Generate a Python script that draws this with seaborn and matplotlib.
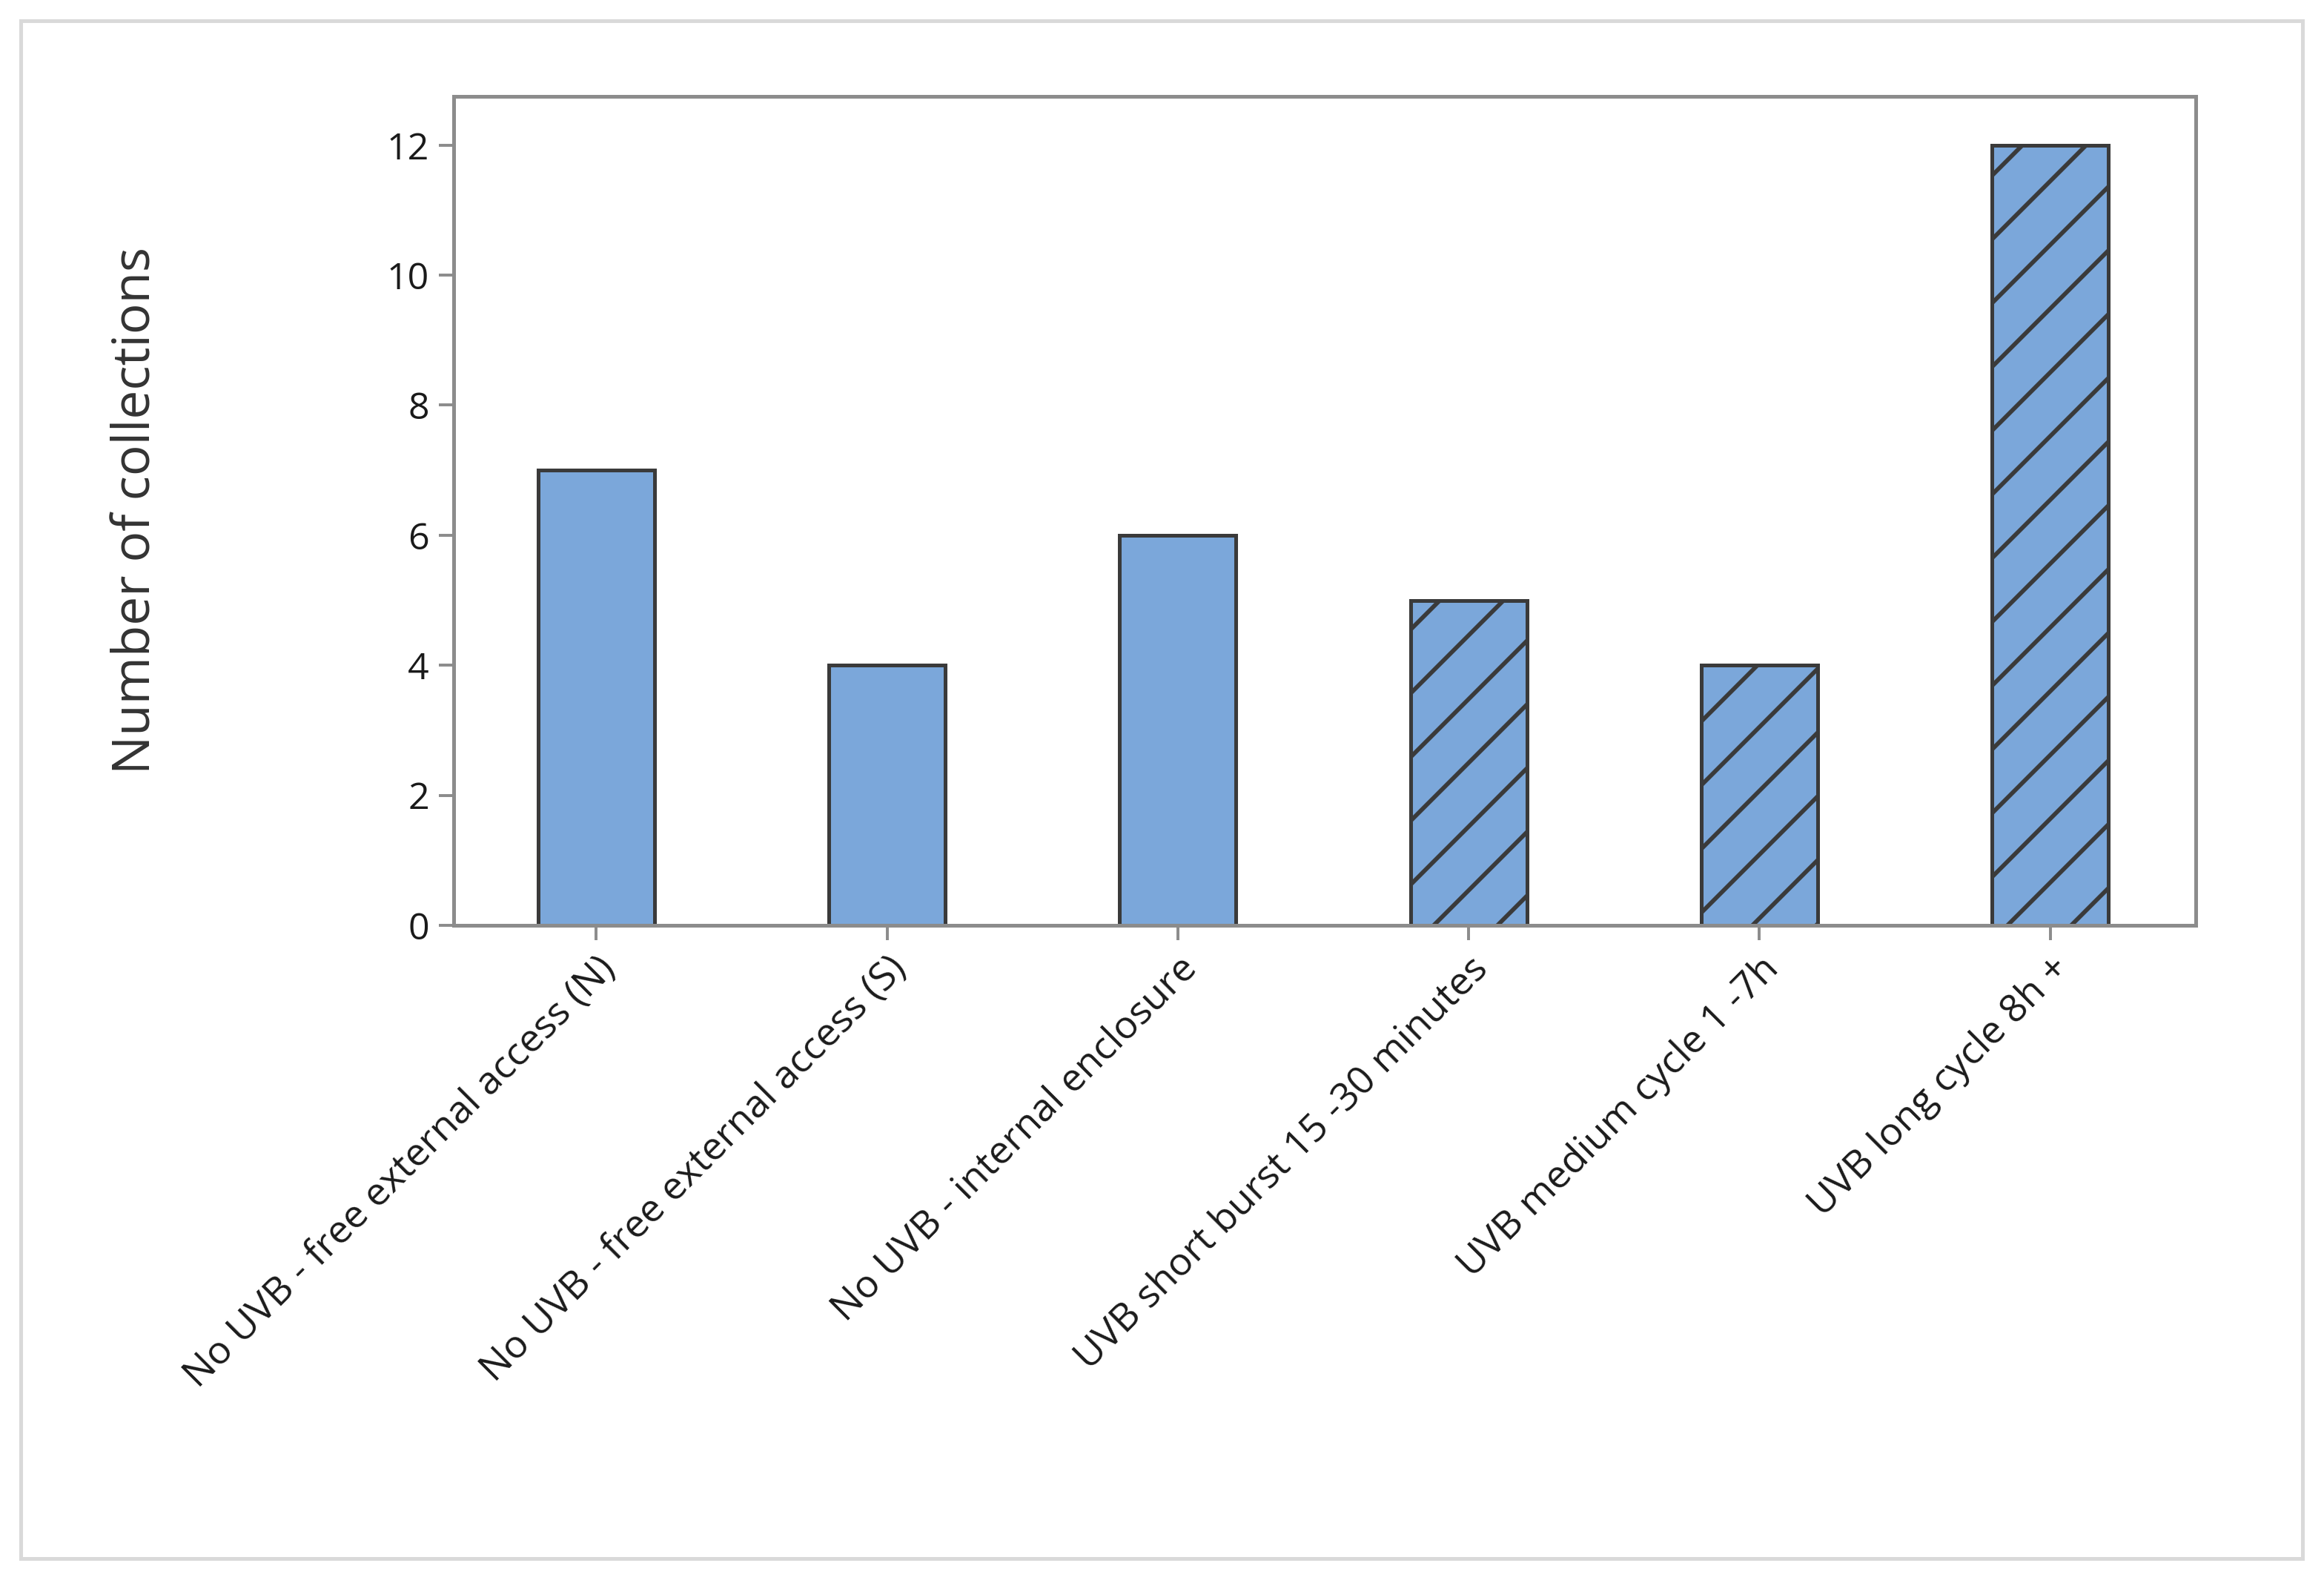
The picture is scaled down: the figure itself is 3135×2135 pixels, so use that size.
import numpy as np
import pandas as pd
import matplotlib
matplotlib.use("Agg")
import matplotlib.pyplot as plt
import seaborn as sns
from matplotlib.patches import Rectangle

# data
categories = ["No UVB - free external access (N)",
              "No UVB - free external access (S)",
              "No UVB - internal enclosure",
              "UVB short burst 15 -30 minutes",
              "UVB medium cycle 1 -7h",
              "UVB long cycle 8h +"]
collections = [7, 4, 6, 5, 4, 12]
uvb = [False, False, False, True, True, True]

df = pd.DataFrame({"group": categories, "n": collections, "uvb": uvb})

sns.set_style("white")
plt.rcParams["font.family"] = ["Open Sans", "DejaVu Sans"]
plt.rcParams["hatch.linewidth"] = 0.8
plt.rcParams["hatch.color"] = "#3a3a3a"

# dpi picked so the hatch spacing matches the reference
dpi = 516
fig = plt.figure(figsize=(3135 / dpi, 2135 / dpi), dpi=dpi)
ax = fig.add_axes([0.1952, 0.4155, 0.7496, 0.5236])

sns.barplot(data=df, x="group", y="n", color="#7ba7da", saturation=1, width=0.4,
            edgecolor="#3a3a3a", linewidth=0.7, ax=ax)

# UVB groups get the diagonal hatch
for bar, h in zip(ax.patches, df["uvb"]):
    if h:
        bar.set_hatch("//")

ax.set_xlim(-0.49, 5.5)
ax.set_ylim(0, 12.75)
ax.set_yticks(np.arange(0, 13, 2))

for s in ax.spines.values():
    s.set_visible(True)
    s.set_color("#8c8c8c")
    s.set_linewidth(0.7)

ax.tick_params(axis="both", which="both", direction="out", length=2.8, width=0.55,
               color="#8c8c8c", labelsize=7, labelcolor="#1a1a1a", pad=1.8,
               left=True, bottom=True)
ax.set_xticks(range(len(categories)))
ax.set_xticklabels(categories, rotation=45, ha="right", rotation_mode="anchor",
                   fontsize=7.3)

ax.set_xlabel("")
ax.set_ylabel("Number of collections", fontsize=9.7, color="#333333")
ax.yaxis.set_label_coords(-0.167, 0.5)

# light frame round the whole picture
fig.patches.append(Rectangle((28 / 3135, 1 - 2102 / 2135), (3106 - 28) / 3135, (2102 - 28) / 2135,
                             transform=fig.transFigure, fill=False,
                             edgecolor="#d9d9d9", linewidth=0.7))

fig.savefig("out.png", dpi=dpi)
